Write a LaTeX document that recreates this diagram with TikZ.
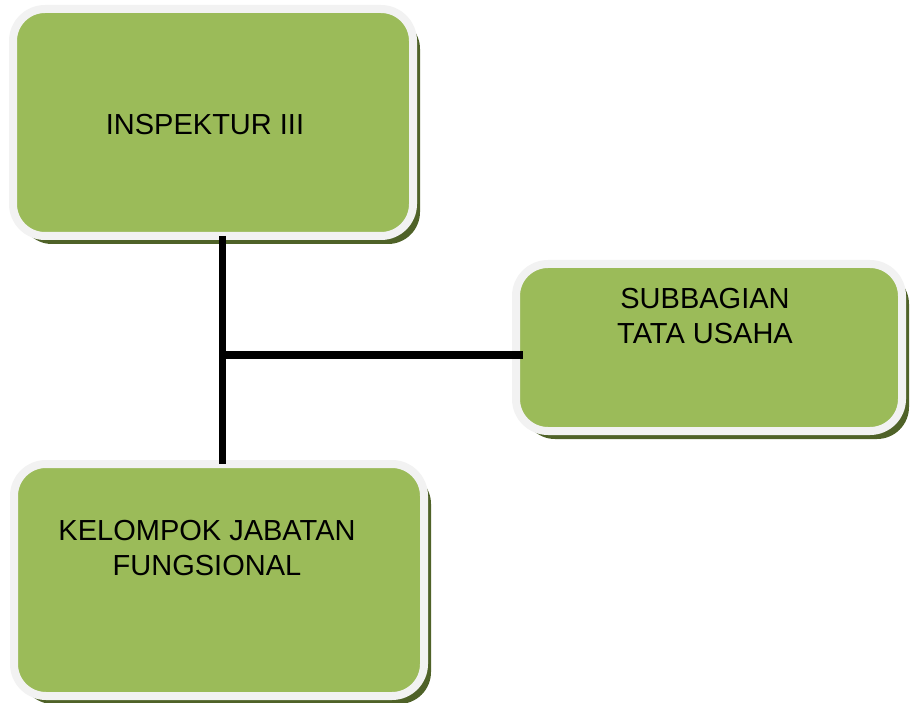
\documentclass[tikz,border=0pt]{standalone}
\usepackage{fontspec}
\setmainfont{Liberation Sans}
\usetikzlibrary{calc,shadows}
\definecolor{boxgreen}{HTML}{9BBB59}
\definecolor{boxrim}{HTML}{F2F2F2}
\definecolor{boxshade}{HTML}{4F6228}
\tikzset{
	unitbox/.style={draw=boxrim, line width=8pt, fill=boxgreen, rounded corners=32pt, inner sep=0pt, outer sep=0pt,
		drop shadow={shadow xshift=7pt, shadow yshift=-8pt, fill=boxshade, opacity=1}},
	unittext/.style={inner sep=0pt, align=center, anchor=base, font=\fontsize{29}{35}\selectfont},
	orgline/.style={line width=7.5pt}
}

\begin{document}
\begin{tikzpicture}[x=1pt, y=-1pt]
				\useasboundingbox (0, 0) rectangle (910, 703);
				
				\node[unitbox, minimum width=400pt, minimum height=227pt] (insp) at (213, 122.5) {};
				\node[unitbox, minimum width=386pt, minimum height=167pt] (sub) at (709, 347.5) {};
				\node[unitbox, minimum width=410pt, minimum height=232pt] (kel) at (219, 580) {};
				
				% base of the last line
				\node[unittext] (insptext) at (205, 135) {INSPEKTUR III};
				\node[unittext] (subtext) at (705, 343) {SUBBAGIAN\\TATA USAHA};
				\node[unittext] (keltext) at (207, 575) {KELOMPOK JABATAN\\FUNGSIONAL};
				
				\coordinate (tee) at (222.5, 355);
				\draw[orgline] (tee |- insp.south) -- (tee |- kel.north);
				\draw[orgline] (tee) -- ($(tee -| sub.west)+(7, 0)$);
			\end{tikzpicture}
\end{document}
